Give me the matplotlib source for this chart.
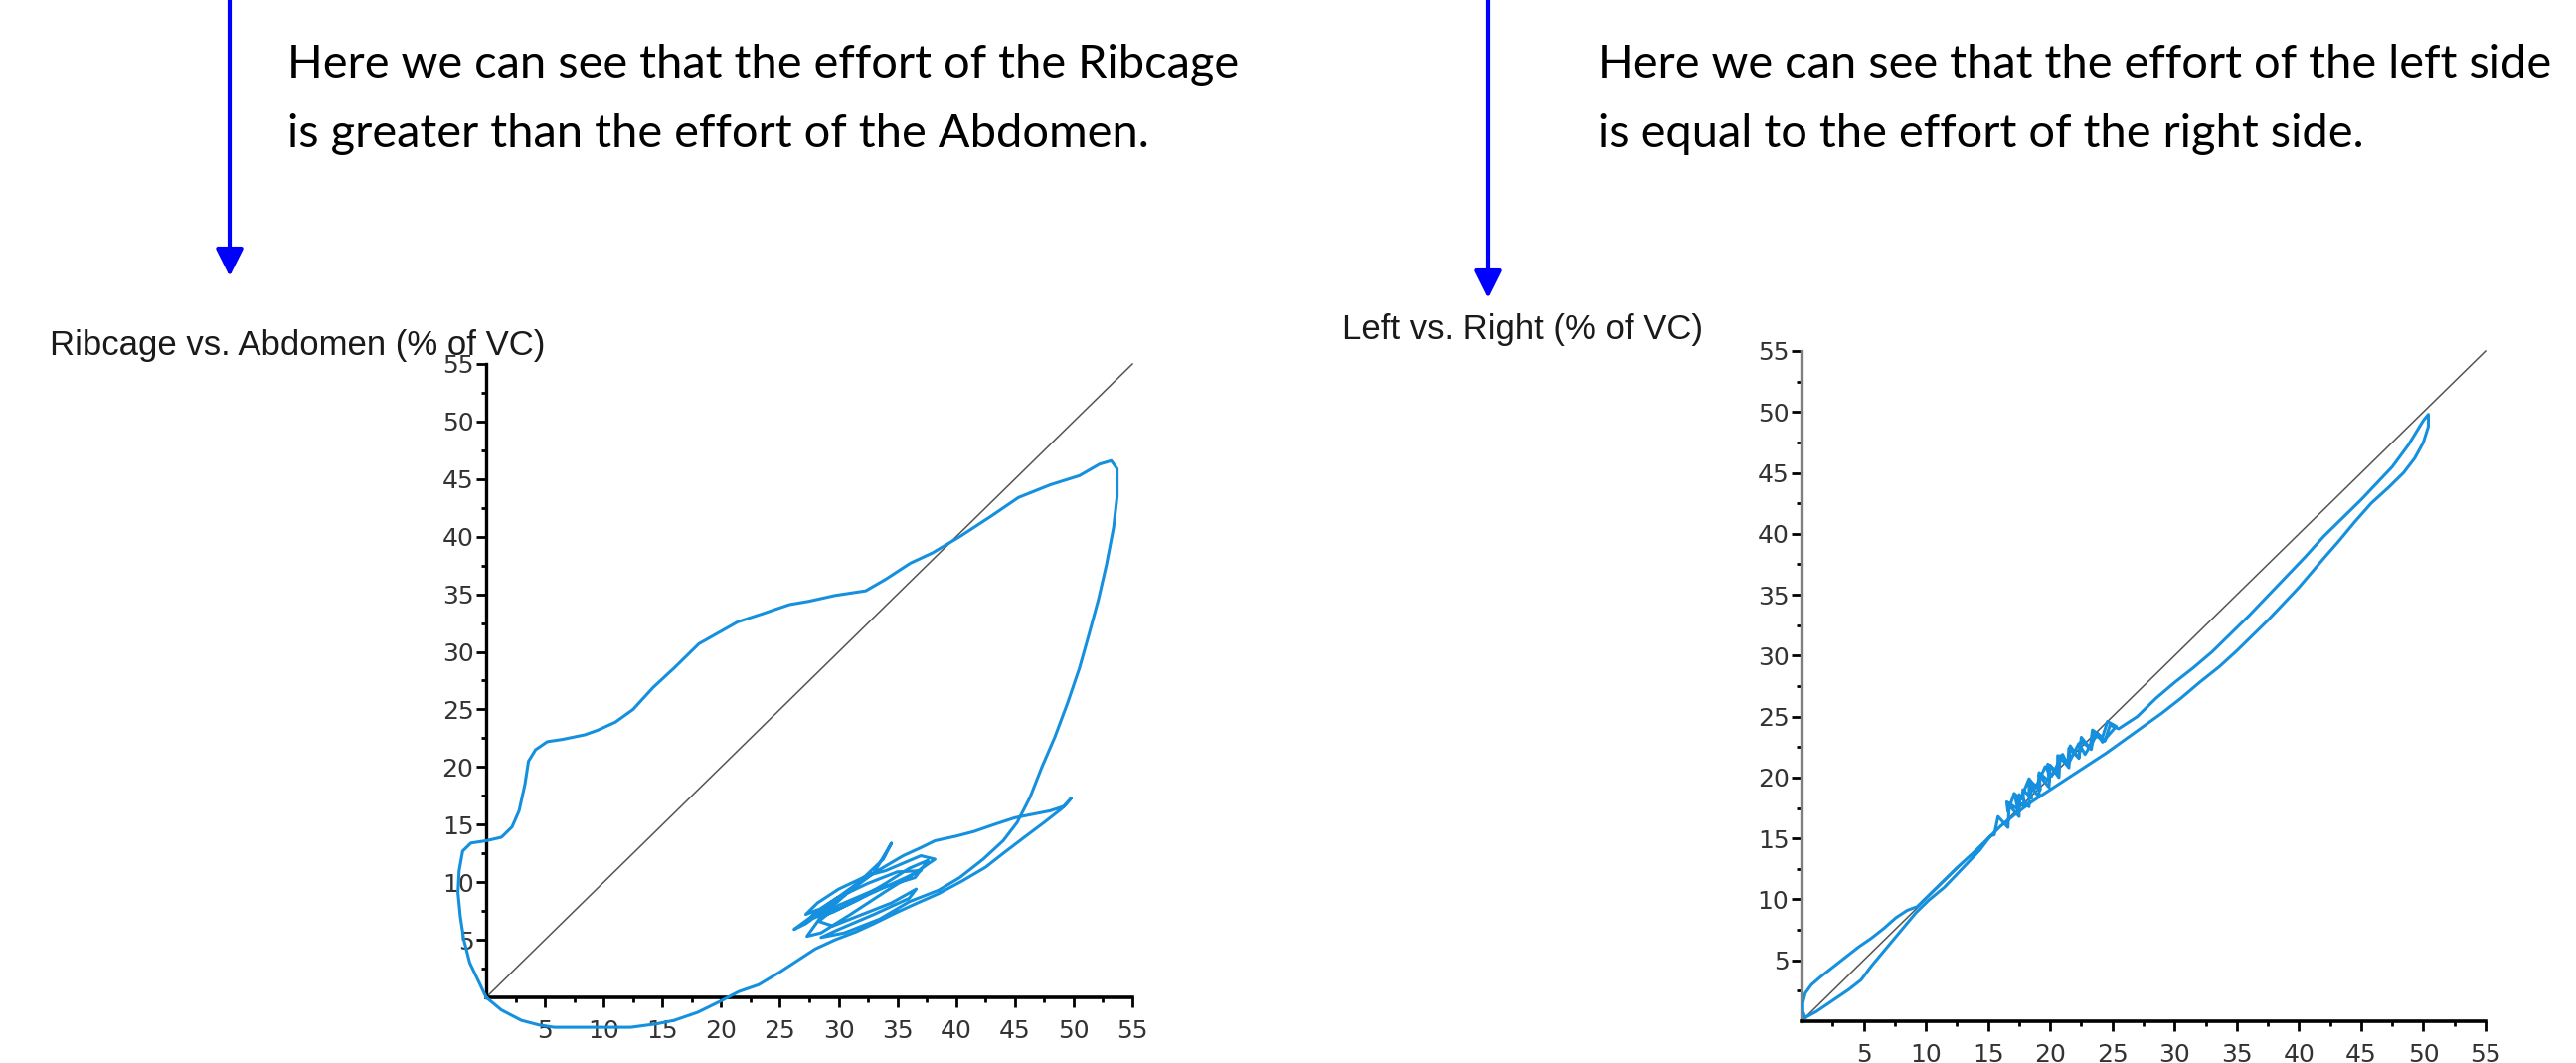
import numpy as np
import matplotlib
matplotlib.use('Agg')
import matplotlib.pyplot as plt
from matplotlib.ticker import FixedLocator, NullFormatter

W, H = 2591, 1069

# Ribcage vs. Abdomen loop (x = abdomen, y = ribcage), % of VC
rib_abd_x = [0, 1.3, 3, 4.5, 5.8, 9, 12.3, 14.5, 16, 18, 20, 21.5, 23.2, 25, 26.5, 28, 29.7, 31.5, 33, 35,
             36.5, 38.5, 40.5, 42.5, 44, 45.8, 47.5, 49, 49.8,
             49.2, 48, 46.5, 45, 43.2, 41.5, 40, 38.2, 37,
             35.5, 32, 29, 27, 26.2, 27.2, 30, 33, 34.5, 33.8, 31, 28.5, 27.3, 28.5, 31, 34, 36.5, 38.2, 37, 34,
             32.5, 30, 28.2, 27.2, 28.2, 27.5, 29.5, 32.5, 35.5, 37,
             35, 32.5, 29.8, 28, 29, 31.5, 34, 36, 37.6,
             36.5, 33, 30, 28.3, 29.5, 32, 34.5, 36.6, 36, 33, 30, 28.5,
             30.5, 33.5,
             36, 38.5, 40.3, 42.3, 44, 45.2, 46.3, 47.3, 48.4, 49.5, 50.5, 51.3, 52.1, 52.8, 53.4, 53.7, 53.7,
             53.2, 52.2, 50.5, 48, 45.3, 43, 40.3, 38, 36.1, 34, 32.3, 29.7, 27.5, 25.8, 23.5, 21.4, 19.5, 18.1,
             16, 14.2, 12.5, 11, 9.5, 8.4, 6.5, 5.2, 4.2, 3.6, 3.3, 2.8, 2.2, 1.3, 0, -1.3, -2, -2.3, -2.4, -2.2,
             -1.9, -1.4, -0.6, 0]
rib_abd_y = [0, -1.1, -2, -2.4, -2.6, -2.6, -2.6, -2.3, -2, -1.3, -0.3, 0.5, 1.1, 2.2, 3.2, 4.2, 5, 5.7, 6.4, 7.4,
             8.1, 9, 10.1, 11.3, 12.5, 13.9, 15.2, 16.4, 17.3,
             16.6, 16.2, 15.9, 15.6, 15, 14.4, 14, 13.6, 13,
             12.3, 10.2, 8, 6.5, 5.9, 6.4, 8.5, 10.8, 13.4, 12, 9.3, 7, 5.3, 5.6, 7.2, 9.2, 10.8, 12, 12.3, 11,
             10.6, 9.4, 8.2, 7.2, 7.6, 6.8, 7.4, 8.9, 10.3, 11,
             10.9, 9.9, 8.6, 7.4, 7.2, 8.4, 9.9, 11.2, 11.9,
             10.4, 9.3, 8, 6.6, 6.2, 7.2, 8.2, 9.4, 8.6, 7.2, 5.9, 5.2,
             5.6, 6.8,
             8.3, 9.3, 10.4, 12, 13.6, 15.2, 17.4, 20, 22.6, 25.6, 28.6, 31.5, 34.5, 37.6, 40.8, 43.5, 45.9,
             46.6, 46.3, 45.3, 44.5, 43.4, 41.8, 40, 38.6, 37.7, 36.3, 35.3, 34.9, 34.4, 34.1, 33.3, 32.6, 31.5,
             30.7, 28.6, 26.9, 25, 23.9, 23.2, 22.8, 22.4, 22.2, 21.5, 20.5, 18.5, 16.2, 14.8, 13.9, 13.6, 13.4,
             12.7, 11, 9.1, 7, 5, 3, 1.3, 0]

# Left vs. Right loop, % of VC
lr_x = [0.3, 1.2, 2.5, 3.8, 4.8, 5.6, 6.5, 7.4, 8.3, 9.2, 10.2, 11.5, 13, 14.3, 15.2,
        15.5, 15.8, 16.6, 16.7, 17.5, 17.5, 18.3, 18.3, 19.1, 19.1, 19.9, 20, 20.7, 20.8, 21.5, 21.6,
        22.3, 22.5, 23.2, 23.4, 24.2, 24.6, 25.3,
        24.2, 23.8, 22.8, 22.3, 21.4, 21, 20.1, 19.6, 18.8, 18.3, 17.6, 17.1, 16.6, 16.5, 17.4,
        17.2, 17.9, 17.8, 18.5, 18.4, 19.2, 19.1, 19.9, 19.8, 20.6, 20.6, 21.4, 21.5, 22.3, 22.5, 23.3,
        23.5, 24.4, 24.8, 25.5,
        27, 28.5, 30, 31.5, 33, 34.5, 36, 37.5, 39, 40.5, 42, 43.5, 45, 46.3, 47.5, 48.8, 50, 50.4,
        50.4, 50, 49.3, 48.4, 47.2, 45.8, 44.5, 43.2, 42, 41, 40, 38.8, 37.5, 36.2, 35, 33.6, 32, 30.5,
        29, 27.5, 26, 24.5, 23, 21.5, 20, 18.5, 17.2, 16, 15, 13.8, 12.5, 11.2, 10.2, 9.3, 8.5, 7.6,
        6.6, 5.6, 4.6, 3.6, 2.6, 1.6, 0.8, 0.3, 0.1, 0.1, 0.3]
lr_y = [0.3, 0.8, 1.7, 2.6, 3.4, 4.5, 5.6, 6.7, 7.8, 8.9, 9.9, 11, 12.6, 14, 15.2,
        15.3, 16.8, 15.9, 17.7, 16.8, 18.6, 17.6, 19.4, 18.4, 20.2, 19.2, 21, 20, 21.8, 20.8, 22.6,
        21.6, 23.3, 22.4, 23.9, 23.3, 24.6, 24.2,
        22.9, 23.6, 21.9, 22.8, 21, 21.9, 20.1, 20.9, 19.1, 19.9, 18.2, 18.7, 17.2, 18, 17.4,
        18.3, 17.6, 19, 18.3, 19.7, 19, 20.4, 19.7, 21.1, 20.4, 21.8, 21, 22.4, 21.6, 23, 22.3,
        23.5, 23, 24.3, 24,
        25, 26.5, 27.8, 29, 30.3, 31.8, 33.3, 34.9, 36.5, 38.1, 39.8, 41.3, 42.8, 44.2, 45.5, 47.3, 49.3, 49.8,
        48.8, 47.5, 46.2, 45, 43.8, 42.5, 41, 39.4, 38, 36.8, 35.6, 34.3, 32.9, 31.6, 30.4, 29.1, 27.8, 26.5,
        25.3, 24.2, 23.1, 22, 21, 20, 19, 18, 17, 16, 15, 13.8, 12.6, 11.3, 10.3, 9.4, 9.1, 8.5,
        7.6, 6.8, 6.1, 5.3, 4.5, 3.7, 3, 2.3, 1.5, 0.8, 0.3]

diag = [0, 55]
major_ticks = [5, 10, 15, 20, 25, 30, 35, 40, 45, 50, 55]
minor_ticks = [2.5, 7.5, 12.5, 17.5, 22.5, 27.5, 32.5, 37.5, 42.5, 47.5, 52.5]

note_left = ["Here we can see that the effort of the Ribcage",
             "is greater than the effort of the Abdomen."]
note_right = ["Here we can see that the effort of the left side",
              "is equal to the effort of the right side."]

fig = plt.figure(figsize=(W / 100, H / 100), dpi=100)

# overlay in pixel coords for notes and arrows
bg = fig.add_axes([0, 0, 1, 1])
bg.set_xlim(0, W)
bg.set_ylim(H, 0)
bg.axis('off')


def place(x0, x55, y0, y55, xlim, ylim):
    sx = (x55 - x0) / 55
    sy = (y0 - y55) / 55
    left = x0 + xlim[0] * sx
    right = x0 + xlim[1] * sx
    bottom = y0 - ylim[0] * sy
    top = y0 - ylim[1] * sy
    ax = fig.add_axes([left / W, 1 - bottom / H, (right - left) / W, (bottom - top) / H])
    ax.set_xlim(*xlim)
    ax.set_ylim(*ylim)
    return ax


def style(ax, ycolor):
    ax.patch.set_visible(False)
    for s in ['top', 'right']:
        ax.spines[s].set_visible(False)
    ax.spines['left'].set_position(('data', 0))
    ax.spines['bottom'].set_position(('data', 0))
    ax.spines['left'].set_bounds(0, 55)
    ax.spines['bottom'].set_bounds(0, 55)
    ax.spines['left'].set_linewidth(2.4)
    ax.spines['bottom'].set_linewidth(2.6)
    ax.spines['left'].set_color(ycolor)
    ax.spines['bottom'].set_color('black')
    for axis in [ax.xaxis, ax.yaxis]:
        axis.set_major_locator(FixedLocator(major_ticks))
        axis.set_minor_locator(FixedLocator(minor_ticks))
        axis.set_minor_formatter(NullFormatter())
    ax.tick_params(which='major', direction='out', length=7, width=2, color='black',
                   labelsize=18, labelcolor='#333333')
    ax.tick_params(which='minor', direction='out', length=3.5, width=2, color='black')
    ax.tick_params(axis='x', which='major', pad=9)
    ax.tick_params(axis='y', which='major', pad=2)


curve_col = '#1590de'

ax1 = place(489, 1139, 1003, 366, (-3, 56), (-3.5, 56))
style(ax1, 'black')
ax1.plot(diag, diag, color='#555555', lw=1.1, zorder=2)
ax1.plot(rib_abd_x, rib_abd_y, color=curve_col, lw=2.2, zorder=3)

ax2 = place(1812, 2500, 1027, 353, (-1, 56), (-1, 56))
style(ax2, '#808080')
ax2.plot(diag, diag, color='#555555', lw=1.1, zorder=2)
ax2.plot(lr_x, lr_y, color=curve_col, lw=2.2, zorder=3)

# titles
bg.text(50, 348, "Ribcage vs. Abdomen (% of VC)", fontsize=25, family='Liberation Sans',
        color='#1a1a1a', va='center', ha='left')
bg.text(1350, 332, "Left vs. Right (% of VC)", fontsize=25, family='Liberation Sans',
        color='#1a1a1a', va='center', ha='left')

# notes
for i, line in enumerate(note_left):
    bg.text(289, 65 + i * 70, line, fontsize=33.8, family='Lato', color='black', va='center', ha='left')
for i, line in enumerate(note_right):
    bg.text(1607, 65 + i * 70, line, fontsize=33.8, family='Lato', color='black', va='center', ha='left')

# arrows
arrow = dict(arrowstyle='-|>', color='#0000ff', lw=3, mutation_scale=42, shrinkA=0, shrinkB=0)
bg.annotate('', xy=(231, 278), xytext=(231, 0), arrowprops=arrow)
bg.annotate('', xy=(1497, 300), xytext=(1497, 0), arrowprops=arrow)

fig.savefig('out.png', dpi=100)
